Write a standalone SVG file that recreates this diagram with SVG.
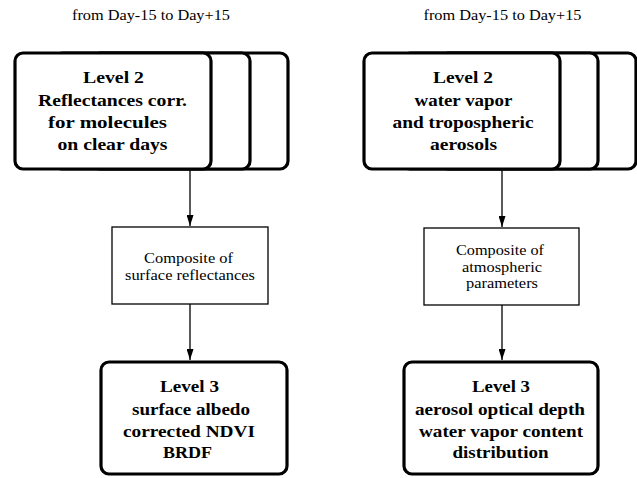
<svg xmlns="http://www.w3.org/2000/svg" width="637" height="478" viewBox="0 0 637 478">
<defs>
<style>
.bx{fill:#fff;stroke:#000;stroke-width:3.2}
.cb{fill:#fff;stroke:#000;stroke-width:1.3}
.ln{stroke:#000;stroke-width:1.3;fill:none}
</style>
<marker id="dn" markerWidth="7" markerHeight="11" refX="3.5" refY="11" markerUnits="userSpaceOnUse" viewBox="0 0 7 11">
<path d="M0,0 L7,0 L3.5,11 Z" fill="#000"/>
</marker>
</defs>
<rect width="637" height="478" fill="#fff"/>
<g font-family="'Liberation Serif', 'Times New Roman', serif" fill="#000" text-anchor="middle" font-size="14.5">
<text x="151" y="20" textLength="158" lengthAdjust="spacingAndGlyphs">from Day-15 to Day+15</text>
<text x="502.5" y="20" textLength="158" lengthAdjust="spacingAndGlyphs">from Day-15 to Day+15</text>
</g>
<g id="connectors">
<line class="ln" x1="190" y1="170" x2="190" y2="226" marker-end="url(#dn)"/>
<line class="ln" x1="190" y1="304" x2="190" y2="360" marker-end="url(#dn)"/>
<line class="ln" x1="502" y1="170" x2="502" y2="227" marker-end="url(#dn)"/>
<line class="ln" x1="502" y1="305" x2="502" y2="360" marker-end="url(#dn)"/>
</g>
<g id="level2-left">
<rect class="bx" x="92" y="53" width="196" height="116" rx="8"/>
<rect class="bx" x="54" y="53" width="196" height="116" rx="8"/>
<rect class="bx" x="15" y="53" width="196" height="116" rx="8"/>
<g font-family="'Liberation Serif', 'Times New Roman', serif" font-weight="bold" font-size="16.5" text-anchor="middle" fill="#000">
<text x="113.5" y="83" textLength="61" lengthAdjust="spacingAndGlyphs">Level 2</text>
<text x="112.5" y="106" textLength="149" lengthAdjust="spacingAndGlyphs">Reflectances corr.</text>
<text x="107.5" y="128" textLength="119" lengthAdjust="spacingAndGlyphs">for molecules</text>
<text x="112.5" y="150" textLength="110" lengthAdjust="spacingAndGlyphs">on clear days</text>
</g>
</g>
<g id="composite-left">
<rect class="cb" x="112" y="227" width="156" height="77"/>
<g font-family="'Liberation Serif', 'Times New Roman', serif" font-size="14" text-anchor="middle" fill="#000">
<text x="188.5" y="263" textLength="89" lengthAdjust="spacingAndGlyphs">Composite of</text>
<text x="190" y="280" textLength="130" lengthAdjust="spacingAndGlyphs">surface reflectances</text>
</g>
</g>
<g id="level3-left">
<rect class="bx" x="101" y="362" width="186" height="112" rx="8"/>
<g font-family="'Liberation Serif', 'Times New Roman', serif" font-weight="bold" font-size="16.5" text-anchor="middle" fill="#000">
<text x="189.5" y="392" textLength="59" lengthAdjust="spacingAndGlyphs">Level 3</text>
<text x="191" y="415" textLength="118" lengthAdjust="spacingAndGlyphs">surface albedo</text>
<text x="189" y="437" textLength="132" lengthAdjust="spacingAndGlyphs">corrected NDVI</text>
<text x="187.5" y="458" textLength="49" lengthAdjust="spacingAndGlyphs">BRDF</text>
</g>
</g>
<g id="level2-right">
<rect class="bx" x="440" y="53" width="196" height="116" rx="8"/>
<rect class="bx" x="402" y="53" width="196" height="116" rx="8"/>
<rect class="bx" x="364" y="53" width="196" height="116" rx="8"/>
<g font-family="'Liberation Serif', 'Times New Roman', serif" font-weight="bold" font-size="16.5" text-anchor="middle" fill="#000">
<text x="463" y="83" textLength="60" lengthAdjust="spacingAndGlyphs">Level 2</text>
<text x="463.5" y="106" textLength="98" lengthAdjust="spacingAndGlyphs">water vapor</text>
<text x="463" y="128" textLength="141" lengthAdjust="spacingAndGlyphs">and tropospheric</text>
<text x="463.5" y="150" textLength="67" lengthAdjust="spacingAndGlyphs">aerosols</text>
</g>
</g>
<g id="composite-right">
<rect class="cb" x="424" y="228" width="155" height="77"/>
<g font-family="'Liberation Serif', 'Times New Roman', serif" font-size="14" text-anchor="middle" fill="#000">
<text x="500" y="255" textLength="88" lengthAdjust="spacingAndGlyphs">Composite of</text>
<text x="502" y="272" textLength="80" lengthAdjust="spacingAndGlyphs">atmospheric</text>
<text x="502" y="288" textLength="72" lengthAdjust="spacingAndGlyphs">parameters</text>
</g>
</g>
<g id="level3-right">
<rect class="bx" x="404" y="362" width="194" height="112" rx="8"/>
<g font-family="'Liberation Serif', 'Times New Roman', serif" font-weight="bold" font-size="16.5" text-anchor="middle" fill="#000">
<text x="501" y="392" textLength="58" lengthAdjust="spacingAndGlyphs">Level 3</text>
<text x="500" y="415" textLength="170" lengthAdjust="spacingAndGlyphs">aerosol optical depth</text>
<text x="501" y="437" textLength="164" lengthAdjust="spacingAndGlyphs">water vapor content</text>
<text x="500.5" y="458" textLength="96" lengthAdjust="spacingAndGlyphs">distribution</text>
</g>
</g>
</svg>
